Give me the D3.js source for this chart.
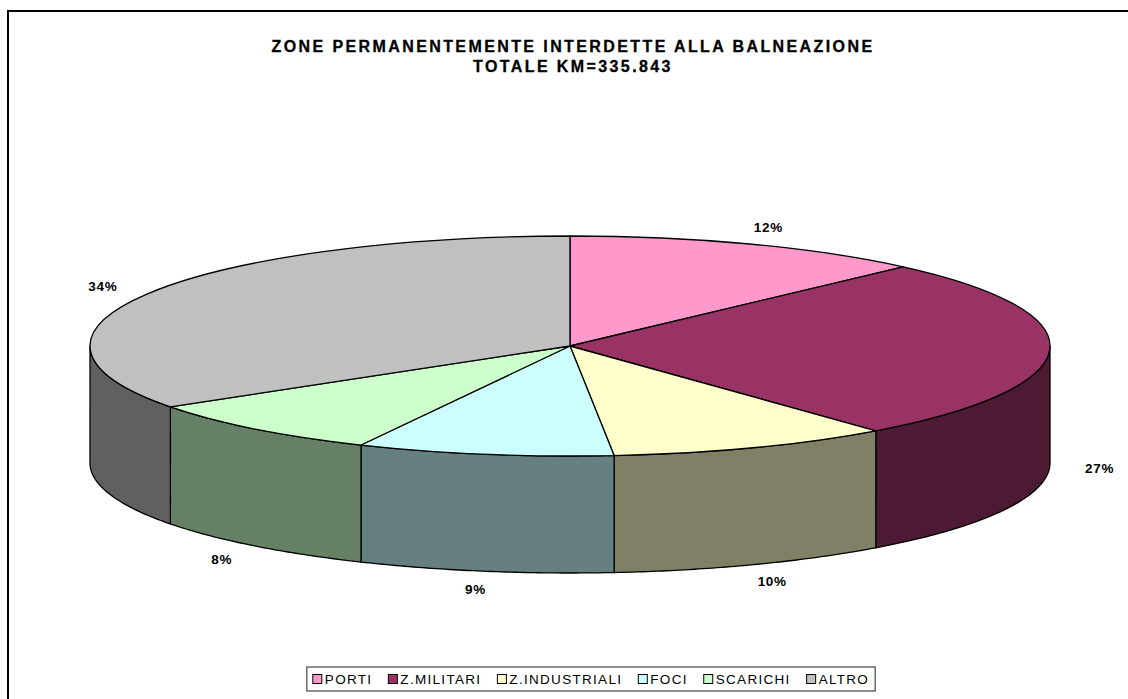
<!DOCTYPE html>
<html>
<head>
<meta charset="utf-8">
<script src="https://cdn.jsdelivr.net/npm/d3@7"></script>
<style>
  body { margin: 0; background: #fff; }
  svg { display: block; font-family: "Liberation Sans", Arial, sans-serif; }
</style>
</head>
<body>
<svg id="chart" width="1128" height="699"></svg>
<script>
// data (km of coast; percentages shown on the chart)
const categories = ["PORTI", "Z.MILITARI", "Z.INDUSTRIALI", "FOCI", "SCARICHI", "ALTRO"];
const kmValues = [41.0, 90.0, 32.0, 29.0, 28.5, 115.343];
const topColors = ["#FF99CC", "#993366", "#FFFFCC", "#CCFFFF", "#CCFFCC", "#C0C0C0"];
const titleLines = ["ZONE PERMANENTEMENTE INTERDETTE ALLA BALNEAZIONE", "TOTALE KM=335.843"];

const width = 1128, height = 699;
const cx = 570, cy = 346;   // centre of the top face
const rx = 480, ry = 110;   // ellipse radii
const depth = 117;          // thickness of the pie

const svg = d3.select("#chart");

// frame
svg.append("rect")
  .attr("x", 8).attr("y", 11)
  .attr("width", width).attr("height", height)
  .attr("fill", "none").attr("stroke", "#000").attr("stroke-width", 2);

// title
svg.append("g").selectAll("text")
  .data(titleLines)
  .enter().append("text")
  .attr("x", 573)
  .attr("y", (d, i) => 52 + i * 20)
  .attr("text-anchor", "middle")
  .attr("font-size", 16)
  .attr("font-weight", "bold")
  .attr("letter-spacing", 2.4)
  .attr("stroke", "#000").attr("stroke-width", 0.3)
  .text(d => d);

const total = d3.sum(kmValues);
const pieData = d3.pie().sort(null).value(d => d)(kmValues)
  .map((d, i) => Object.assign(d, { name: categories[i], color: topColors[i] }));

// point on the ellipse, angle measured clockwise from 12 o'clock
const pt = (a, dy = 0) => [cx + rx * Math.sin(a), cy - ry * Math.cos(a) + dy];

function wallColor(c) {
  const r = d3.rgb(c);
  return d3.rgb(r.r / 2, r.g / 2, r.b / 2).toString();
}

const line = d3.line();

// outer walls (only the front half is visible)
const walls = svg.append("g");
pieData.forEach(d => {
  const s = Math.max(d.startAngle, Math.PI / 2);
  const e = Math.min(d.endAngle, Math.PI * 3 / 2);
  if (s >= e) return;
  const n = Math.max(2, Math.ceil((e - s) / 0.01));
  const top = d3.range(n + 1).map(k => pt(s + (e - s) * k / n));
  const bot = top.map(p => [p[0], p[1] + depth]).reverse();
  walls.append("path")
    .attr("d", line(top.concat(bot)) + "Z")
    .attr("fill", wallColor(d.color))
    .attr("stroke", "#000")
    .attr("stroke-width", 1.3)
    .attr("stroke-linejoin", "round");
});

// top faces
const tops = svg.append("g");
pieData.forEach(d => {
  const p0 = pt(d.startAngle), p1 = pt(d.endAngle);
  const large = (d.endAngle - d.startAngle) > Math.PI ? 1 : 0;
  tops.append("path")
    .attr("d", `M${cx},${cy}L${p0[0]},${p0[1]}A${rx},${ry} 0 ${large} 1 ${p1[0]},${p1[1]}Z`)
    .attr("fill", d.color)
    .attr("stroke", "#000")
    .attr("stroke-width", 1.3)
    .attr("stroke-linejoin", "round");
});

// percentage labels
const lrx = 530, lry = 128;
svg.append("g").selectAll("text")
  .data(pieData)
  .enter().append("text")
  .attr("x", d => {
    const a = (d.startAngle + d.endAngle) / 2;
    return cx + lrx * Math.sin(a);
  })
  .attr("y", d => {
    const a = (d.startAngle + d.endAngle) / 2;
    return cy - lry * Math.cos(a) + (Math.cos(a) < 0 ? depth : 0) + 5;
  })
  .attr("text-anchor", "middle")
  .attr("font-size", 13.5)
  .attr("font-weight", "bold")
  .attr("letter-spacing", 0.7)
  .text(d => Math.round(d.value / total * 100) + "%");

// legend
const legend = svg.append("g");
const legendBox = legend.append("rect")
  .attr("fill", "#fff").attr("stroke", "#444").attr("stroke-width", 1.2);
const items = legend.selectAll("g.item")
  .data(categories)
  .enter().append("g").attr("class", "item");
items.append("rect")
  .attr("width", 9).attr("height", 9)
  .attr("y", -9.5)
  .attr("fill", (d, i) => topColors[i])
  .attr("stroke", "#000").attr("stroke-width", 1);
items.append("text")
  .attr("x", 12)
  .attr("font-size", 13.5)
  .attr("letter-spacing", 1.3)
  .text(d => d);

const gap = 16;
const offsets = [];
let lx = 0;
items.each(function () {
  offsets.push(lx);
  lx += 12 + d3.select(this).select("text").node().getComputedTextLength() + gap;
});
const legW = lx - gap;
const legX = 591 - legW / 2, legY = 684;
items.attr("transform", (d, i) => `translate(${legX + offsets[i]},${legY})`);
legendBox
  .attr("x", legX - 6).attr("y", legY - 17)
  .attr("width", legW + 12).attr("height", 24);
</script>
</body>
</html>
